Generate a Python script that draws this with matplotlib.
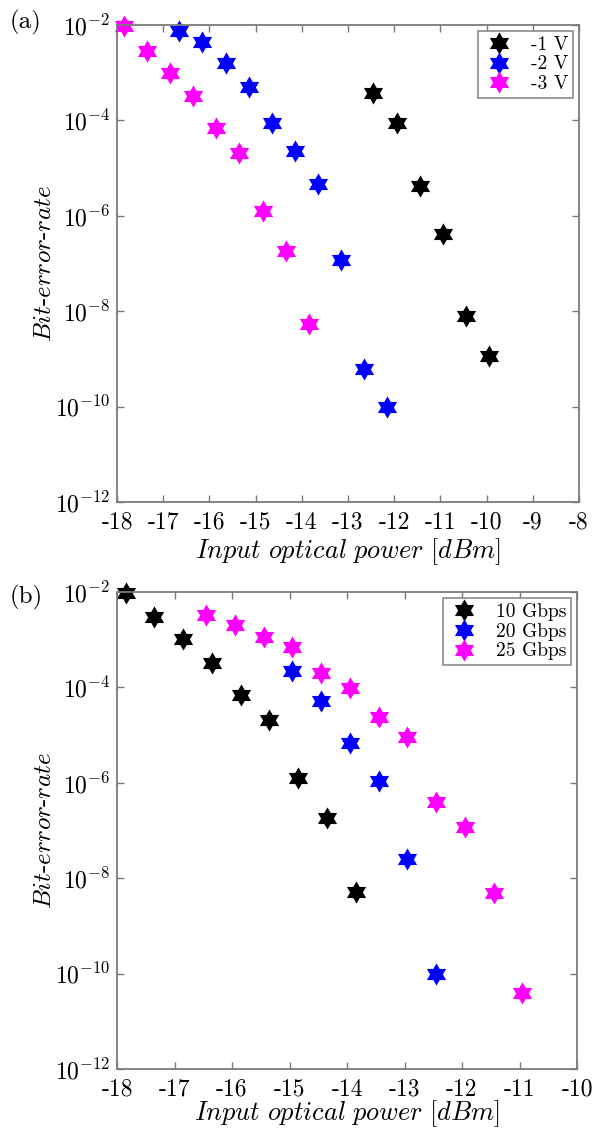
import numpy as np
import matplotlib
matplotlib.use("Agg")
import matplotlib.pyplot as plt
from matplotlib.path import Path
from matplotlib.ticker import FuncFormatter

plt.rcParams['font.family'] = 'serif'
plt.rcParams['font.serif'] = ['cmr10', 'DejaVu Serif']
plt.rcParams['mathtext.fontset'] = 'cm'
plt.rcParams['axes.unicode_minus'] = False
plt.rcParams['axes.formatter.use_mathtext'] = True

# (a) BER vs input power for different bias voltages
x_1v = [-12.45, -11.95, -11.45, -10.95, -10.45, -9.95]
ber_1v = [3.7e-4, 8.9e-5, 4.2e-6, 4.2e-7, 7.9e-9, 1.15e-9]
x_2v = [-16.65, -16.15, -15.65, -15.15, -14.65, -14.15, -13.65, -13.15, -12.65, -12.15]
ber_2v = [7.5e-3, 4.4e-3, 1.6e-3, 5.0e-4, 8.9e-5, 2.3e-5, 4.7e-6, 1.2e-7, 6.2e-10, 1.0e-10]
x_3v = [-17.85, -17.35, -16.85, -16.35, -15.85, -15.35, -14.85, -14.35, -13.85]
ber_3v = [9.5e-3, 2.8e-3, 1.0e-3, 3.2e-4, 6.9e-5, 2.1e-5, 1.26e-6, 1.8e-7, 5.4e-9]

# (b) BER vs input power for different bit rates
x_10g = [-17.85, -17.35, -16.85, -16.35, -15.85, -15.35, -14.85, -14.35, -13.85]
ber_10g = [9.5e-3, 3.0e-3, 1.03e-3, 3.2e-4, 6.9e-5, 2.1e-5, 1.26e-6, 1.8e-7, 5.1e-9]
x_20g = [-14.95, -14.45, -13.95, -13.45, -12.95, -12.45]
ber_20g = [2.2e-4, 5.1e-5, 6.8e-6, 1.1e-6, 2.5e-8, 1.0e-10]
x_25g = [-16.45, -15.95, -15.45, -14.95, -14.45, -13.95, -13.45, -12.95, -12.45, -11.95, -11.45, -10.95]
ber_25g = [3.3e-3, 2.0e-3, 1.14e-3, 7.0e-4, 2.0e-4, 9.7e-5, 2.4e-5, 9.1e-6, 4.0e-7, 1.2e-7, 4.9e-9, 3.9e-11]

yticks = [1e-12, 1e-10, 1e-8, 1e-6, 1e-4, 1e-2]

# six pointed star marker
ang = np.deg2rad(90 + 30 * np.arange(12))
rad = np.where(np.arange(12) % 2 == 0, 1.0, 1 / np.sqrt(3))
verts = np.column_stack([rad * np.cos(ang), rad * np.sin(ang)])
verts = np.vstack([verts, verts[0]])
codes = [Path.MOVETO] + [Path.LINETO] * 11 + [Path.CLOSEPOLY]
hexagram = Path(verts, codes)

fig = plt.figure(figsize=(5.94, 11.30), dpi=100)
ax1 = fig.add_axes([117 / 594, 1 - 502 / 1130, 462 / 594, 477 / 1130])
ax2 = fig.add_axes([117 / 594, 1 - 1069 / 1130, 460 / 594, 477 / 1130])

gray = '#7a7a7a'
ms = 16
for ax, series in [
    (ax1, [(x_1v, ber_1v, 'k', '-1 V'), (x_2v, ber_2v, 'b', '-2 V'), (x_3v, ber_3v, '#ff00ff', '-3 V')]),
    (ax2, [(x_10g, ber_10g, 'k', '10 Gbps'), (x_20g, ber_20g, 'b', '20 Gbps'), (x_25g, ber_25g, '#ff00ff', '25 Gbps')]),
]:
    for xs, ys, c, lab in series:
        ax.plot(xs, ys, linestyle='none', marker=hexagram, markersize=ms,
                color=c, markeredgewidth=0, label=lab, clip_on=False)
    ax.set_yscale('log')
    ax.set_ylim(1e-12, 1e-2)
    ax.set_yticks(yticks)
    ax.minorticks_off()
    ax.xaxis.set_major_formatter(FuncFormatter(lambda v, p: '-%d' % abs(v) if v < 0 else '%d' % v))
    ax.tick_params(direction='in', top=True, right=True, length=5, width=1,
                   color=gray, labelsize=17, pad=5)
    ax.tick_params(axis='x', pad=7)
    for s in ax.spines.values():
        s.set_color(gray)
        s.set_linewidth(1.3)
    ax.set_ylabel(r'$\mathit{Bit}$-$\mathit{error}$-$\mathit{rate}$', fontsize=18, va='center')
    ax.yaxis.set_label_coords(-72 / 462, 0.5)
    ax.set_xlabel(r'$\mathit{Input\ optical\ power\ [dBm]}$', fontsize=19, va='center')
    leg = ax.legend(loc='upper right', bbox_to_anchor=(0.988, 0.988), fontsize=14,
                    frameon=True, fancybox=False, borderaxespad=0, handletextpad=0.8,
                    labelspacing=0.1, borderpad=0.25, markerscale=1.0, handlelength=1.7)
    leg.get_frame().set_edgecolor(gray)
    leg.get_frame().set_linewidth(1.3)

ax1.xaxis.set_label_coords(0.5, -50 / 477)
ax2.xaxis.set_label_coords(0.5, -45 / 477)

ax1.set_xlim(-18, -8)
ax1.set_xticks(np.arange(-18, -7, 1))
ax2.set_xlim(-18, -10)
ax2.set_xticks(np.arange(-18, -9, 1))

fig.text(10 / 594, 1 - 22 / 1130, '(a)', fontsize=18, va='center')
fig.text(10 / 594, 1 - 597 / 1130, '(b)', fontsize=18, va='center')

fig.savefig('out.png', dpi=100)
